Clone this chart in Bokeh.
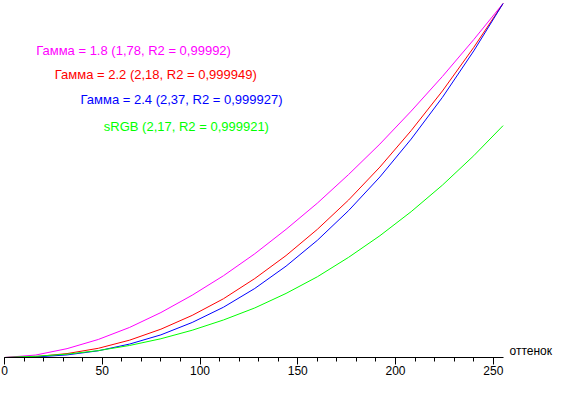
from bokeh.plotting import figure
from bokeh.models import Label, SingleIntervalTicker, Range1d
from bokeh.embed import file_html
from bokeh.resources import INLINE

# tone levels (x axis)
shade = [0, 16, 32, 48, 64, 80, 96, 112, 128, 144, 160, 176, 192, 208, 224, 240, 255]

# normalised brightness
gamma_18 = [0.0, 0.007, 0.025, 0.051, 0.085, 0.127, 0.176, 0.231, 0.293, 0.362, 0.436, 0.517, 0.603, 0.696, 0.794, 0.898, 1.0]
gamma_22 = [0.0, 0.0024, 0.011, 0.026, 0.049, 0.080, 0.119, 0.166, 0.223, 0.288, 0.362, 0.445, 0.538, 0.641, 0.753, 0.876, 1.0]
gamma_24 = [0.0, 0.0014, 0.0073, 0.019, 0.038, 0.064, 0.099, 0.142, 0.195, 0.258, 0.331, 0.415, 0.510, 0.617, 0.735, 0.866, 1.0]
srgb     = [0.0, 0.0034, 0.0095, 0.0195, 0.034, 0.053, 0.077, 0.106, 0.140, 0.181, 0.228, 0.283, 0.344, 0.412, 0.487, 0.570, 0.655]

series_colors = ["#FF00FF", "#FF0000", "#0000FF", "#00FF00"]
series_labels = [
    "Гамма = 1.8 (1,78, R2 = 0,99992)",
    "Гамма = 2.2 (2,18, R2 = 0,999949)",
    "Гамма = 2.4 (2,37, R2 = 0,999927)",
    "sRGB (2,17, R2 = 0,999921)",
]
label_x = [16.2, 25.7, 38.9, 50.8]
label_y = [0.867, 0.799, 0.729, 0.6525]
x_title = "оттенок"

FONT = "Liberation Sans"

p = figure(width=554, height=379,
           x_range=Range1d(0, 281.3), y_range=Range1d(0, 1.0085),
           output_backend="svg", toolbar_location=None,
           y_axis_location=None,
           min_border_left=4, min_border_right=0,
           min_border_top=0, min_border_bottom=22)

p.xgrid.visible = False
p.ygrid.visible = False
p.outline_line_color = None
p.background_fill_color = "white"
p.border_fill_color = "white"

ax = p.xaxis[0]
ax.ticker = SingleIntervalTicker(interval=50, num_minor_ticks=5)
ax.bounds = (0, 255)
ax.axis_line_color = "black"
ax.major_tick_line_color = "black"
ax.minor_tick_line_color = "black"
ax.major_tick_in = 0
ax.major_tick_out = 7
ax.minor_tick_in = 0
ax.minor_tick_out = 4
ax.major_label_standoff = 1
ax.major_label_text_font = FONT
ax.major_label_text_font_size = "12px"
ax.major_label_text_color = "black"

for ys, c in zip([gamma_18, gamma_22, gamma_24, srgb], series_colors):
    p.line(shade, ys, line_color=c, line_width=1)

for t, c, lx, ly in zip(series_labels, series_colors, label_x, label_y):
    p.add_layout(Label(x=lx, y=ly, text=t, text_color=c, text_font=FONT,
                       text_font_size="13px", text_baseline="middle", text_align="left"))

p.add_layout(Label(x=258.3, y=0.017, text=x_title, text_color="black", text_font=FONT,
                   text_font_size="12px", text_baseline="middle", text_align="left"))

open("out.html", "w").write(file_html(p, INLINE))
